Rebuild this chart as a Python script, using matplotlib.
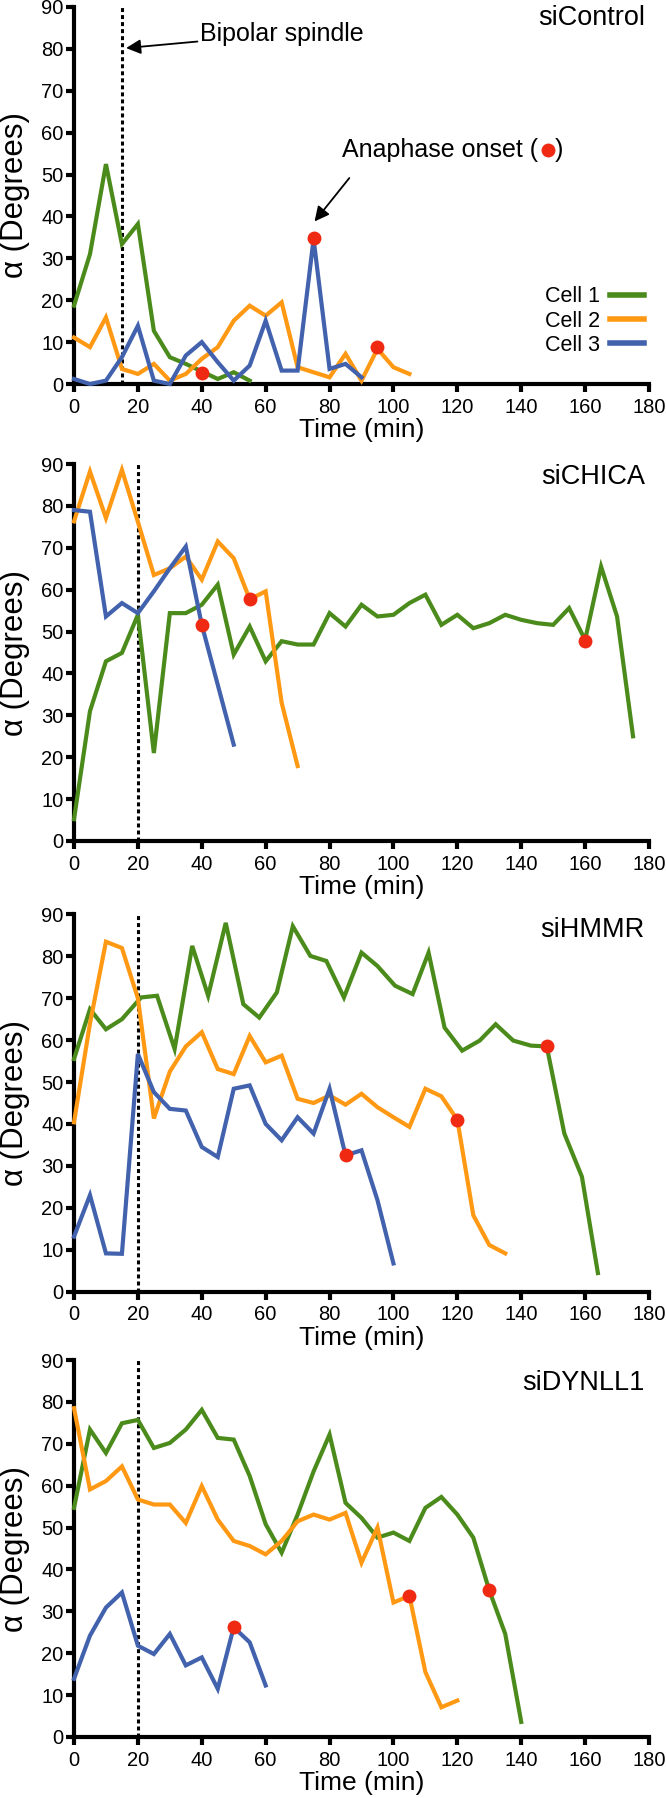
import matplotlib
matplotlib.use("Agg")
import matplotlib.pyplot as plt
from matplotlib.lines import Line2D

plt.rcParams['font.family'] = ['Liberation Sans', 'DejaVu Sans']

GREEN = "#4B8B1B"
ORANGE = "#FF9914"
BLUE = "#4262AE"
RED = "#F02A12"

# ---------------- data ----------------
titles = ["siControl", "siCHICA", "siHMMR", "siDYNLL1"]
spindle_time = [15, 20, 20, 20]
x_ticks = list(range(0, 181, 20))
y_ticks = list(range(0, 91, 10))
cell_labels = ["Cell 1", "Cell 2", "Cell 3"]

# siControl
t1_g = [0, 5, 10, 15, 20, 25, 30, 35, 40, 45, 50, 55]
v1_g = [18.7, 31, 52.5, 33.4, 38.2, 12.7, 6.4, 4.8, 3.0, 1.2, 2.8, 0.8]
t1_o = list(range(0, 106, 5))
v1_o = [11.1, 8.8, 15.9, 3.6, 2.4, 4.8, 0.8, 2.4, 6.0, 8.8, 15.1, 18.7, 16.3, 19.5,
        4.0, 2.8, 1.6, 7.2, 0.8, 8.4, 4.0, 2.4]
t1_b = list(range(0, 91, 5))
v1_b = [1.2, 0, 0.8, 6.4, 13.9, 0.8, 0, 6.8, 10, 5.2, 0.8, 4.4, 15.1, 3.2, 3.2, 34.6,
        3.6, 4.8, 1.6]
onset1_t = [40, 75, 95]
onset1_v = [2.6, 34.8, 8.8]

# siCHICA
t2_g = list(range(0, 176, 5))
v2_g = [5.2, 31, 42.9, 44.9, 54, 21, 54.4, 54.4, 56.4, 61.2, 44.5, 51.2, 42.9, 47.7,
        46.9, 46.9, 54.4, 51.2, 56.4, 53.6, 54, 56.8, 58.8, 51.6, 54, 50.8, 52, 54,
        52.8, 52, 51.6, 55.6, 48, 65.5, 53.6, 25]
t2_o = list(range(0, 71, 5))
v2_o = [76.3, 88.2, 77.1, 88.6, 76.2, 63.5, 65.1, 67.9, 62.4, 71.5, 67.5, 57.7, 59.6,
        33, 17.9]
t2_b = list(range(0, 51, 5))
v2_b = [79, 78.6, 53.6, 56.8, 54.4, 59.6, 65.1, 70.3, 51.6, 37.3, 23]
onset2_t = [40, 55, 160]
onset2_v = [51.6, 57.7, 47.7]

# siHMMR
t3_g = [0, 5, 10, 15, 21, 26, 31.5, 37, 42, 47.5, 53, 58, 63.5, 68.5, 74, 79, 84.5,
        90, 95, 100.5, 106, 111, 116, 121.5, 127, 132, 137.5, 143, 148, 153.5, 159, 164]
v3_g = [55.5, 67.4, 62.6, 65, 70.2, 70.6, 57.9, 82.5, 70.6, 88, 68.6, 65.4, 71.4, 87.2,
        80.1, 78.9, 70.2, 80.9, 77.7, 73, 71, 80.9, 63, 57.5, 59.9, 63.8, 59.9, 58.7,
        58.5, 37.7, 27.4, 4.4]
t3_o = list(range(0, 136, 5))
v3_o = [40.4, 64, 83.5, 82, 70, 41.3, 52.5, 58.5, 61.9, 53.1, 51.9, 61, 54.7, 56.3, 46,
        45, 46.8, 44.6, 47.2, 44, 41.6, 39.3, 48.4, 46.6, 41, 18.2, 11.1, 9.1]
t3_b = list(range(0, 101, 5))
v3_b = [13.1, 23, 9.1, 9, 56.7, 47.6, 43.6, 43.2, 34.5, 32.1, 48.4, 49.2, 40, 36.1,
        41.6, 37.7, 48.4, 32.5, 33.7, 21.8, 6.7]
onset3_t = [85, 120, 148]
onset3_v = [32.5, 41, 58.7]

# siDYNLL1
t4_g = list(range(0, 141, 5))
v4_g = [54.7, 73.4, 67.8, 74.9, 75.7, 69, 70.2, 73.4, 78.1, 71.4, 71, 62.3, 50.8, 44,
        53.1, 63.4, 72.2, 55.9, 52.3, 47.6, 48.8, 46.8, 54.7, 57.3, 53.1, 47.6, 35,
        24.6, 3.6]
t4_o = list(range(0, 121, 5))
v4_o = [78.5, 59.1, 61.1, 64.6, 56.7, 55.5, 55.5, 51.1, 59.9, 51.9, 46.8, 45.6, 43.6,
        46.8, 51.5, 53.1, 51.9, 53.5, 41.6, 50, 32.1, 33.7, 15.5, 7.1, 8.7]
t4_b = list(range(0, 61, 5))
v4_b = [13.9, 24.2, 30.9, 34.5, 21.8, 19.8, 24.6, 17.1, 19, 11.5, 26.2, 22.6, 12.3]
onset4_t = [50, 105, 130]
onset4_v = [26.2, 33.7, 35]

panels = [
    ((t1_g, v1_g), (t1_o, v1_o), (t1_b, v1_b), (onset1_t, onset1_v)),
    ((t2_g, v2_g), (t2_o, v2_o), (t2_b, v2_b), (onset2_t, onset2_v)),
    ((t3_g, v3_g), (t3_o, v3_o), (t3_b, v3_b), (onset3_t, onset3_v)),
    ((t4_g, v4_g), (t4_o, v4_o), (t4_b, v4_b), (onset4_t, onset4_v)),
]
title_y = [87.3, 87.0, 86.2, 84.5]

# annotation anchors (data coords, panel 1)
bipolar_text = (39.5, 83.6)
bipolar_tip = (16.3, 80.2)
anaphase_text = (84.0, 55.8)
anaphase_tip = (75.3, 38.8)
anaphase_sym = (148.4, 55.8)
anaphase_close = (150.6, 55.8)

# ---------------- figure ----------------
W, H = 666, 1798
fig = plt.figure(figsize=(W / 100, H / 100), dpi=100)

ax_left = 74 / W
ax_w = 575 / W
bottoms_px = [384, 841, 1291.5, 1737]
ax_h = 377 / H

colors = [GREEN, ORANGE, BLUE]

for i, (g, o, b, on) in enumerate(panels):
    ax = fig.add_axes([ax_left, 1 - bottoms_px[i] / H, ax_w, ax_h])
    for (t, v), c in zip((g, o, b), colors):
        ax.plot(t, v, color=c, lw=3.0, clip_on=False, zorder=3,
                solid_joinstyle='miter')
    ax.plot(on[0], on[1], 'o', color=RED, ms=10, mec='none', zorder=5, clip_on=False)
    ax.axvline(spindle_time[i], color='black', lw=2.2, ls=(0, (1.3, 1.0)), zorder=2)

    ax.set_xlim(0, 180)
    ax.set_ylim(0, 90)
    ax.set_xticks(x_ticks)
    ax.set_yticks(y_ticks)
    for s in ('top', 'right'):
        ax.spines[s].set_visible(False)
    for s in ('left', 'bottom'):
        ax.spines[s].set_linewidth(3.0)
    ax.tick_params(axis='x', length=6, width=3.0, labelsize=14.5, pad=4)
    ax.tick_params(axis='y', length=6, width=3.0, labelsize=14.5, pad=1.5)
    ax.set_xlabel("Time (min)", fontsize=19, labelpad=1)
    ax.set_ylabel("α (Degrees)", fontsize=22.5)
    ax.yaxis.set_label_coords(-0.077, 0.5)
    ax.text(178.7, title_y[i], titles[i], ha='right', va='center', fontsize=19.5)

    if i == 0:
        handles = [Line2D([], [], color=c, lw=4) for c in colors]
        ax.legend(handles, cell_labels, markerfirst=False, frameon=False,
                  fontsize=15.5, handlelength=1.55, handletextpad=0.5,
                  labelspacing=0.15, loc='center right', borderpad=0,
                  borderaxespad=0, bbox_to_anchor=(0.991, 0.167))
        ax.annotate("Bipolar spindle", xy=bipolar_tip, xytext=bipolar_text,
                    ha='left', va='center', fontsize=18,
                    arrowprops=dict(arrowstyle='-|>', color='black', lw=1.3,
                                    mutation_scale=22, shrinkA=0, shrinkB=0))
        ax.annotate("Anaphase onset (", xy=anaphase_tip, xytext=anaphase_text,
                    ha='left', va='center', fontsize=18,
                    arrowprops=dict(arrowstyle='-|>', color='black', lw=1.3,
                                    mutation_scale=22, shrinkA=12, shrinkB=0,
                                    relpos=(0.1, 0.0)))
        ax.text(anaphase_close[0], anaphase_close[1], ")", ha='left', va='center',
                fontsize=18)
        ax.plot([anaphase_sym[0]], [anaphase_sym[1]], 'o', color=RED, ms=10,
                mec='none', clip_on=False)

fig.savefig("out.png", dpi=100)
